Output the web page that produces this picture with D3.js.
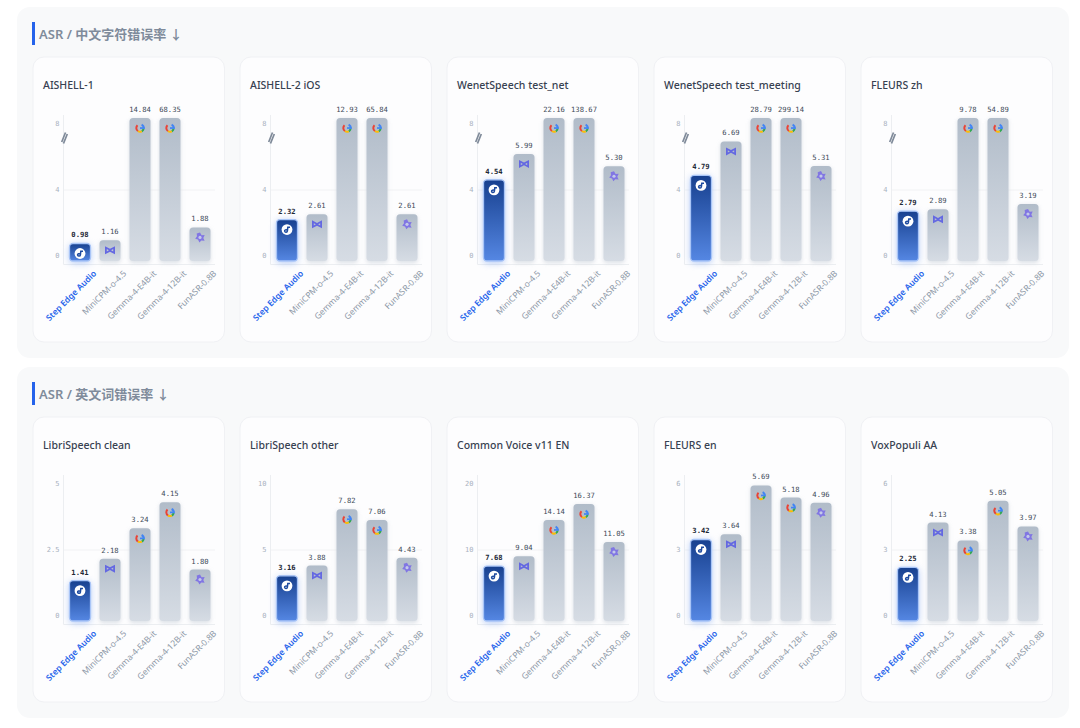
<!DOCTYPE html>
<html>
<head>
<meta charset="utf-8">
<script src="https://cdn.jsdelivr.net/npm/d3@7"></script>
<style>
  body { margin: 0; background: #fff; }
  svg { display: block; }
  text { font-family: "Noto Sans", "Noto Sans CJK SC", sans-serif; }
  .value { font-family: "DejaVu Sans Mono", monospace; font-size: 7.2px; text-anchor: middle; fill: #404a58; }
  .value.best { fill: #1f2937; font-weight: bold; }
  .axis text { font-family: "DejaVu Sans Mono", monospace; font-size: 7px; fill: #a9b2be; }
</style>
</head>
<body>
<svg width="1080" height="728"></svg>
<script>
// data
var models = ["Step Edge Audio", "MiniCPM-o-4.5", "Gemma-4-E4B-it", "Gemma-4-12B-it", "FunASR-0.8B"];
var icons = ["step", "mini", "google", "google", "fun"];

var zhTitle = "ASR / 中文字符错误率 ↓";
var zhDatasets = ["AISHELL-1", "AISHELL-2 iOS", "WenetSpeech test_net", "WenetSpeech test_meeting", "FLEURS zh"];
var zhValues = [
    [0.98, 1.16, 14.84, 68.35, 1.88],
    [2.32, 2.61, 12.93, 65.84, 2.61],
    [4.54, 5.99, 22.16, 138.67, 5.30],
    [4.79, 6.69, 28.79, 299.14, 5.31],
    [2.79, 2.89, 9.78, 54.89, 3.19]
];
var zhMax = [8, 8, 8, 8, 8];

var enTitle = "ASR / 英文词错误率 ↓";
var enDatasets = ["LibriSpeech clean", "LibriSpeech other", "Common Voice v11 EN", "FLEURS en", "VoxPopuli AA"];
var enValues = [
    [1.41, 2.18, 3.24, 4.15, 1.80],
    [3.16, 3.88, 7.82, 7.06, 4.43],
    [7.68, 9.04, 14.14, 16.37, 11.05],
    [3.42, 3.64, 5.69, 5.18, 4.96],
    [2.25, 4.13, 3.38, 5.05, 3.97]
];
var enMax = [5, 10, 20, 6, 6];

var svg = d3.select("svg");
var defs = svg.append("defs");

function gradient(id, top, bottom) {
    var g = defs.append("linearGradient").attr("id", id)
        .attr("x1", 0).attr("y1", 0).attr("x2", 0).attr("y2", 1);
    g.append("stop").attr("offset", "0%").attr("stop-color", top);
    g.append("stop").attr("offset", "100%").attr("stop-color", bottom);
}
gradient("barGrey", "#b1bcc9", "#d6dce4");
gradient("barBlue", "#17408f", "#5587e3");

function blur(id, amount) {
    defs.append("filter").attr("id", id)
        .attr("x", "-60%").attr("y", "-60%").attr("width", "220%").attr("height", "220%")
        .append("feGaussianBlur").attr("stdDeviation", amount);
}
blur("soft", 2);
blur("glow", 3.5);

var cardX = [33, 240, 447, 654, 861];
var fmt = d3.format(".2f");

function drawIcon(g, kind) {
    if (kind === "step") {
        g.append("circle").attr("r", 5.4).attr("fill", "#fff");
        g.append("path").attr("d", "M3,-2.2 L0.8,-2.2 L0.4,1.4 C0.2,3 -2,3 -2.4,1.6 C-2.6,0.4 -0.8,-0.2 0.4,0.6")
            .attr("fill", "none").attr("stroke", "#1d4a9f").attr("stroke-width", 1.5);
    } else if (kind === "mini") {
        g.append("path").attr("d", "M-5,-4 L0,-1.4 L5,-4 L5,4 L0,1.4 L-5,4 Z M-3.2,-1.2 L-3.2,1.2 L-1.1,0 Z M3.2,-1.2 L3.2,1.2 L1.1,0 Z")
            .attr("fill", "#6468e2").attr("fill-rule", "evenodd");
    } else if (kind === "google") {
        var arc = d3.arc().innerRadius(2.7).outerRadius(4.7);
        var parts = [
            [0.45, 1.75, "#4285f4"],
            [1.75, 2.65, "#34a853"],
            [2.65, 3.75, "#fbbc05"],
            [3.75, 5.55, "#ea4335"]
        ];
        parts.forEach(function (p) {
            g.append("path").attr("fill", p[2])
                .attr("d", arc({startAngle: p[0], endAngle: p[1]}));
        });
        g.append("rect").attr("x", 0).attr("y", -0.8).attr("width", 4.7).attr("height", 1.7).attr("fill", "#4285f4");
    } else {
        g.append("path").attr("d", "M0,-5 L1.6,-2.2 L4.7,-2.4 L3.3,0.6 L4.6,3.3 L1.3,3 L-0.6,5 L-2,2.2 L-4.8,1.3 L-3,-1.1 L-3.3,-3.9 Z")
            .attr("fill", "#7b6ee6").attr("opacity", 0.9);
        g.append("circle").attr("r", 1.6).attr("fill", "#c3c9ea");
    }
}

function drawChart(card, dataset, values, max) {
    var baseY = 204, topY = 61;

    card.append("rect").attr("width", 191.5).attr("height", 285).attr("rx", 11)
        .attr("fill", "#fdfdfe").attr("stroke", "#f0f1f4");
    card.append("text").attr("x", 10).attr("y", 32).attr("font-size", 10.5)
        .attr("font-weight", 500).attr("fill", "#374151").text(dataset);

    var x = d3.scaleBand().domain(models).range([32, 182]).paddingInner(0.3).paddingOuter(0.15);
    var y = d3.scaleLinear().domain([0, max]).range([baseY, topY]).clamp(true);

    // raster midden
    card.append("line").attr("x1", 30.5).attr("x2", 182)
        .attr("y1", y(max / 2) + 0.5).attr("y2", y(max / 2) + 0.5).attr("stroke", "#f1f2f4");

    var axis = card.append("g").attr("class", "axis").attr("transform", "translate(30.5,0)")
        .call(d3.axisLeft(y).tickValues([0, max / 2, max]).tickSize(0).tickPadding(4).tickFormat(d3.format("~g")));
    axis.select(".domain").remove();
    axis.selectAll("text").attr("dy", function (d) {
        return d === 0 ? "-0.5em" : d === max ? "1em" : "0.32em";
    });
    card.append("line").attr("x1", 30.5).attr("x2", 30.5).attr("y1", 58).attr("y2", baseY + 3.5).attr("stroke", "#eceef1");
    card.append("line").attr("x1", 30.5).attr("x2", 182).attr("y1", baseY + 3.5).attr("y2", baseY + 3.5).attr("stroke", "#eceef1");

    // breekteken op de as als balken afgekapt zijn
    if (d3.max(values) > max) {
        card.append("path").attr("d", "M28.7,85 L32.5,75.5 M30.5,86.5 L34.3,77")
            .attr("fill", "none").attr("stroke", "#7f8a99").attr("stroke-width", 1.7);
    }

    var rows = d3.zip(models, values, icons);

    card.selectAll(".shadow").data(rows).enter().append("rect")
        .attr("class", "shadow")
        .attr("x", function (d) { return x(d[0]); })
        .attr("y", function (d) { return y(d[1]) + 1; })
        .attr("width", x.bandwidth())
        .attr("height", function (d) { return baseY - y(d[1]) + 1; })
        .attr("rx", 3.5)
        .attr("fill", function (d, i) { return i === 0 ? "#7fa6f0" : "#d3d9e1"; })
        .attr("opacity", function (d, i) { return i === 0 ? 0.6 : 0.8; })
        .attr("filter", function (d, i) { return i === 0 ? "url(#glow)" : "url(#soft)"; });

    card.selectAll(".bar").data(rows).enter().append("rect")
        .attr("class", "bar")
        .attr("x", function (d) { return x(d[0]); })
        .attr("y", function (d) { return y(d[1]); })
        .attr("width", x.bandwidth())
        .attr("height", function (d) { return baseY - y(d[1]); })
        .attr("rx", 3.5)
        .attr("fill", function (d, i) { return i === 0 ? "url(#barBlue)" : "url(#barGrey)"; })
        .attr("stroke", function (d, i) { return i === 0 ? "#a9c5f7" : "none"; })
        .attr("stroke-width", 1.3);

    card.selectAll(".value").data(rows).enter().append("text")
        .attr("class", function (d, i) { return i === 0 ? "value best" : "value"; })
        .attr("x", function (d) { return x(d[0]) + x.bandwidth() / 2; })
        .attr("y", function (d) { return y(d[1]) - 6; })
        .text(function (d) { return fmt(d[1]); });

    rows.forEach(function (d) {
        var g = card.append("g")
            .attr("transform", "translate(" + (x(d[0]) + x.bandwidth() / 2) + "," + (y(d[1]) + 10) + ")");
        drawIcon(g, d[2]);
    });

    // schuine labels onder de as
    rows.forEach(function (d, i) {
        var px = x(d[0]) + x.bandwidth() / 2 + 17, py = baseY + 13;
        card.append("text")
            .attr("transform", "translate(" + px + "," + py + ") rotate(-45)")
            .attr("text-anchor", "end")
            .attr("font-size", 8.5)
            .attr("font-weight", i === 0 ? 600 : 400)
            .attr("fill", i === 0 ? "#2563eb" : "#8e99a8")
            .text(d[0]);
    });
}

function drawSection(top, title, datasets, values, maxes) {
    var g = svg.append("g").attr("transform", "translate(0," + top + ")");
    g.append("rect").attr("x", 17).attr("width", 1052).attr("height", 351).attr("rx", 13).attr("fill", "#f8f9fa");
    g.append("rect").attr("x", 32).attr("y", 15).attr("width", 3).attr("height", 23).attr("fill", "#2563eb");
    g.append("text").attr("x", 39).attr("y", 32).attr("font-size", 13).attr("font-weight", 600)
        .attr("fill", "#7f8b9b").text(title);
    datasets.forEach(function (name, i) {
        drawChart(g.append("g").attr("transform", "translate(" + cardX[i] + ",50)"), name, values[i], maxes[i]);
    });
}

drawSection(7, zhTitle, zhDatasets, zhValues, zhMax);
drawSection(367, enTitle, enDatasets, enValues, enMax);
</script>
</body>
</html>
